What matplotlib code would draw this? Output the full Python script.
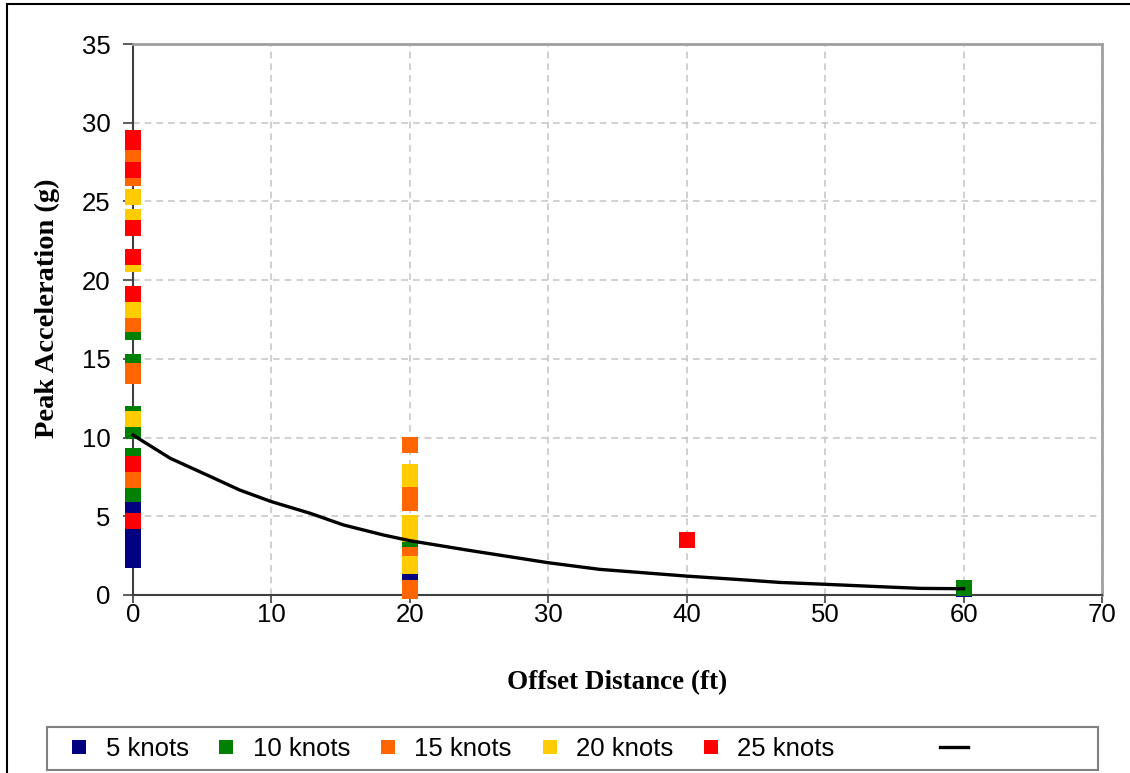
import matplotlib
matplotlib.use("Agg")
import matplotlib.pyplot as plt
from matplotlib.lines import Line2D
from matplotlib.patches import Rectangle

# ---------------- data ----------------
series_names = ["5 knots", "10 knots", "15 knots", "20 knots", "25 knots"]
series_colors = ["#000080", "#008000", "#FF6600", "#FFCC00", "#FF0000"]

x_5kn = [0, 0, 0, 0, 20, 60]
y_5kn = [5.4, 3.7, 3.0, 2.2, 1.15, 0.38]

x_10kn = [0, 0, 0, 0, 0, 0, 20, 60]
y_10kn = [16.7, 14.8, 11.5, 10.4, 8.8, 6.4, 3.3, 0.45]

x_15kn = [0, 0, 0, 0, 0, 0, 20, 20, 20, 20, 20, 20]
y_15kn = [28.0, 26.5, 17.2, 14.2, 13.9, 7.3, 9.55, 6.35, 5.86, 2.55, 0.45, 0.25]

x_20kn = [0, 0, 0, 0, 0, 20, 20, 20, 20, 20, 20]
y_20kn = [25.3, 24.0, 21.0, 18.1, 11.2, 7.8, 7.4, 4.57, 3.9, 1.97, 1.84]

x_25kn = [0, 0, 0, 0, 0, 0, 0, 0, 40]
y_25kn = [29.0, 28.8, 27.0, 23.3, 21.5, 19.1, 8.3, 4.7, 3.5]

# trend curve
x_trend = [0, 2.7, 5.6, 7.7, 10.0, 12.8, 15.2, 18.1, 20.0, 24.1, 30.0, 33.7,
           40.0, 44.3, 46.7, 50.0, 53.9, 56.9, 60.0]
y_trend = [10.16, 8.68, 7.52, 6.67, 5.93, 5.19, 4.45, 3.81, 3.45, 2.86, 2.05, 1.63,
           1.2, 0.95, 0.8, 0.68, 0.53, 0.42, 0.40]

x_ticks = [0, 10, 20, 30, 40, 50, 60, 70]
y_ticks = [0, 5, 10, 15, 20, 25, 30, 35]

xs = [x_5kn, x_10kn, x_15kn, x_20kn, x_25kn]
ys = [y_5kn, y_10kn, y_15kn, y_20kn, y_25kn]

# ---------------- figure ----------------
W, H = 1130, 773
fig = plt.figure(figsize=(W / 100, H / 100), dpi=100)
plt.rcParams['font.family'] = ['Liberation Sans', 'DejaVu Sans']

ax = fig.add_axes([133 / W, 1 - 595 / H, (1102 - 133) / W, (595 - 44) / H])

for xv, yv, c in zip(xs, ys, series_colors):
    ax.plot(xv, yv, linestyle='none', marker='s', markersize=11.5,
            markerfacecolor=c, markeredgewidth=0, clip_on=False, zorder=3)

ax.plot(x_trend, y_trend, color='black', linewidth=2.4, zorder=4,
        solid_joinstyle='round', clip_on=False)

ax.set_xlim(0, 70)
ax.set_ylim(0, 35)
ax.set_xticks(x_ticks)
ax.set_yticks(y_ticks)
ax.tick_params(axis='both', labelsize=18.5, direction='out', color='#404040',
               width=1.2)
ax.tick_params(axis='y', length=7, pad=9)
ax.tick_params(axis='x', length=6, pad=-0.5)

ax.grid(True, color='#c8c8c8', linestyle=(0, (4, 3)), linewidth=1.2)
ax.set_axisbelow(True)

for s in ['left', 'bottom']:
    ax.spines[s].set_color('#404040')
    ax.spines[s].set_linewidth(1.5)
for s in ['top', 'right']:
    ax.spines[s].set_color('#a0a0a0')
    ax.spines[s].set_linewidth(2)

serif = ['Liberation Serif', 'DejaVu Serif']
ax.set_xlabel("Offset Distance (ft)",
              fontdict=dict(family=serif, weight='bold', size=19.5),
              va='center', ha='center')
ax.set_ylabel("Peak Acceleration (g)",
              fontdict=dict(family=serif, weight='bold', size=20.5),
              va='center', ha='center')
ax.xaxis.set_label_coords(0.5, -(683 - 595) / 551)
ax.yaxis.set_label_coords((47 - 133) / 969, (595 - 308) / 551)

# outer border
fig.patches.append(Rectangle((7 / W, -0.05), 1.2, 1 - 4 / H + 0.05,
                             transform=fig.transFigure, fill=False,
                             edgecolor='black', linewidth=1.5))

# legend frame
fig.patches.append(Rectangle((47 / W, 1 - 770 / H), (1098 - 47) / W, 43 / H,
                             transform=fig.transFigure, fill=True,
                             facecolor='white', edgecolor='#808080',
                             linewidth=1.5, zorder=1))

handles = [Line2D([], [], linestyle='none', marker='s', markersize=9.5,
                  markerfacecolor=c, markeredgewidth=0) for c in series_colors]
leg1 = fig.legend(handles, series_names, loc='center left',
                  bbox_to_anchor=(67 / W, 1 - 748.5 / H), ncol=5, frameon=False,
                  fontsize=18.5, handlelength=0.95, handletextpad=0.55,
                  columnspacing=1.0, borderpad=0, borderaxespad=0)
line_handle = Line2D([], [], color='black', linewidth=2.4)
leg2 = fig.legend([line_handle], [''], loc='center left',
                  bbox_to_anchor=(940 / W, 1 - 748.5 / H), frameon=False,
                  fontsize=18.5, handlelength=1.1, handletextpad=0,
                  borderpad=0, borderaxespad=0)

fig.savefig("out.png", dpi=100)
